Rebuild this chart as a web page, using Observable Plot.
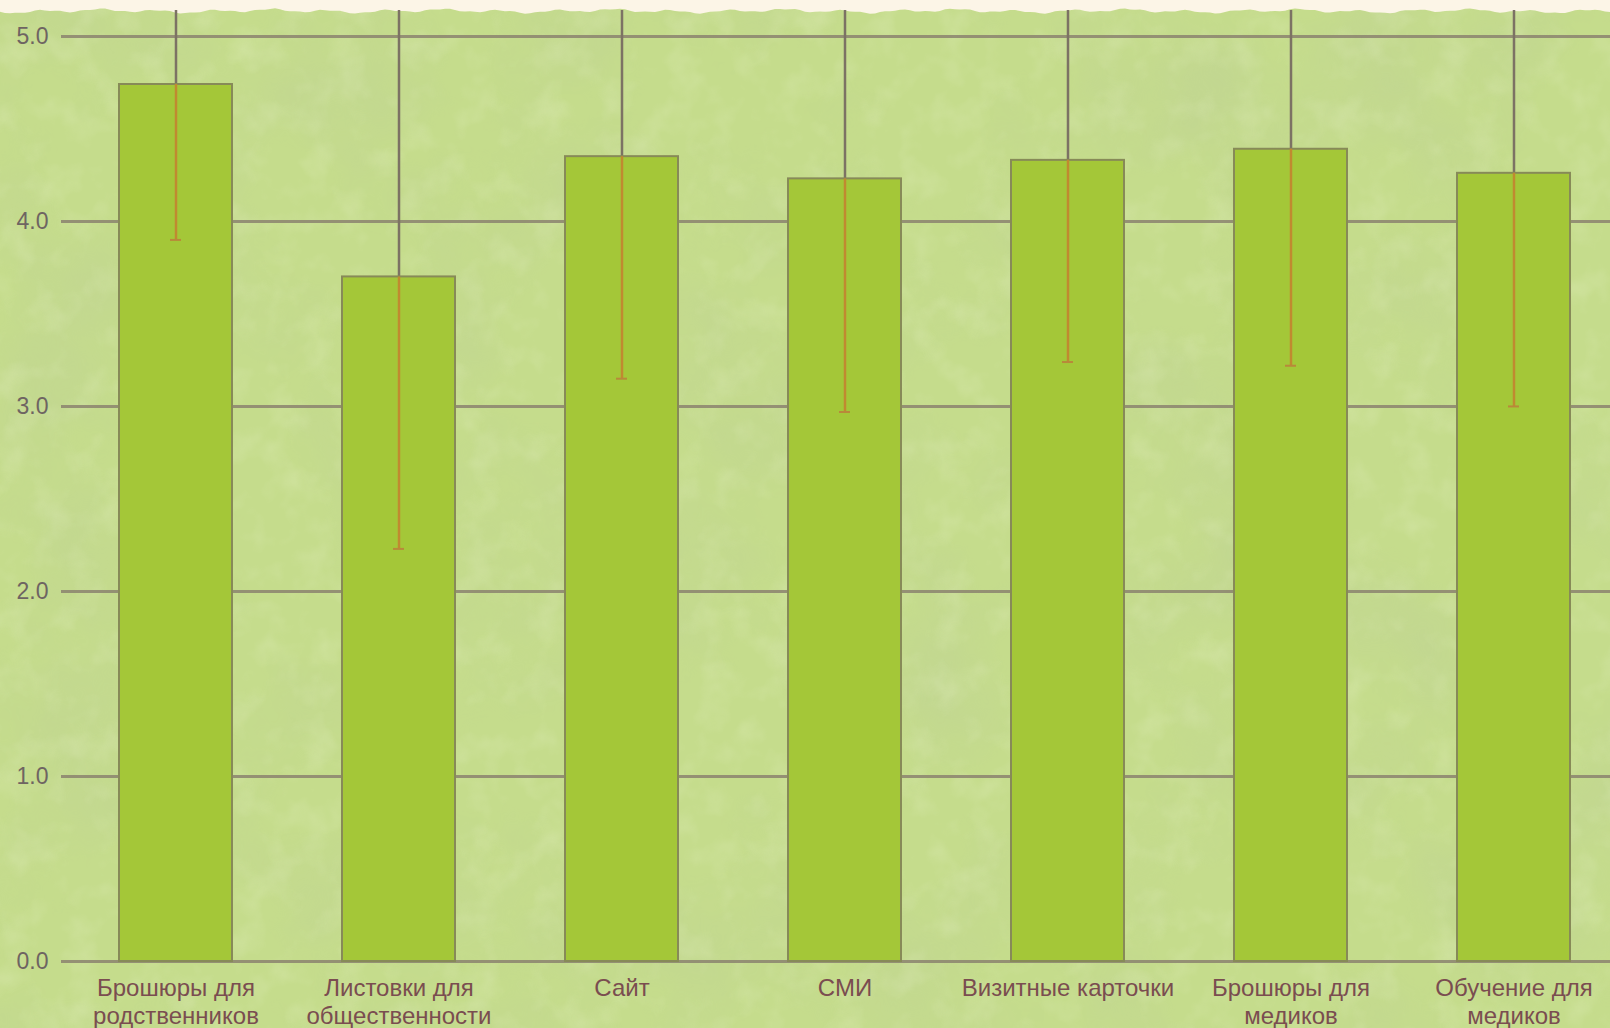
<!DOCTYPE html>
<html>
<head>
<meta charset="utf-8">
<script src="https://cdn.jsdelivr.net/npm/d3@7"></script>
<script src="https://cdn.jsdelivr.net/npm/@observablehq/plot@0.6"></script>
<style>
  html, body { margin: 0; padding: 0; background: #fcf5e7; }
  #wrap { position: relative; width: 1610px; height: 1028px; overflow: hidden; }
  #bg { position: absolute; left: 0; top: 0; }
  #chart { position: absolute; left: 0; top: 10px; }
  #chart svg { font-family: "Liberation Sans", Arial, sans-serif; }
</style>
</head>
<body>
<div id="wrap">
  <svg id="bg" width="1610" height="1028">
    <defs>
      <filter id="tex" x="0" y="0" width="100%" height="100%">
        <feTurbulence type="fractalNoise" baseFrequency="0.006" numOctaves="5" seed="7" result="n"/>
        <feColorMatrix in="n" type="matrix"
          values="0 0 0 0 0.50  0 0 0 0 0.60  0 0 0 0 0.33  1.8 0 0 0 -0.80"/>
      </filter>
      <filter id="tex2" x="0" y="0" width="100%" height="100%">
        <feTurbulence type="fractalNoise" baseFrequency="0.03" numOctaves="3" seed="2" result="n"/>
        <feColorMatrix in="n" type="matrix"
          values="0 0 0 0 0.85  0 0 0 0 0.92  0 0 0 0 0.65  1.6 0 0 0 -0.75"/>
      </filter>
    </defs>
    <rect x="0" y="8" width="1610" height="1020" fill="#c5dc8c"/>
    <rect x="0" y="8" width="1610" height="1020" filter="url(#tex)" opacity="0.4"/>
    <rect x="0" y="8" width="1610" height="1020" filter="url(#tex2)" opacity="0.3"/>
    <path id="torn" fill="#fcf5e7"/>
  </svg>
  <div id="chart"></div>
</div>
<script>
// ---- data ----
const categories = [
  "Брошюры для\nродственников",
  "Листовки для\nобщественности",
  "Сайт",
  "СМИ",
  "Визитные карточки",
  "Брошюры для\nмедиков",
  "Обучение для\nмедиков"
];
const means = [4.74, 3.70, 4.35, 4.23, 4.33, 4.39, 4.26];
const lows  = [3.90, 2.23, 3.15, 2.97, 3.24, 3.22, 3.00];
const yTicks = [0, 1, 2, 3, 4, 5];

// decorative torn paper edge at the top
(function () {
  let d = "M0,0 L1610,0 ";
  for (let x = 1610; x >= 0; x -= 5) {
    const y = 11 + 1.3 * Math.sin(x * 0.11) + 0.9 * Math.sin(x * 0.037 + 1) + 0.6 * Math.sin(x * 0.29);
    d += "L" + x + "," + y.toFixed(2) + " ";
  }
  d += "Z";
  document.getElementById("torn").setAttribute("d", d);
})();

const data = categories.map((c, i) => ({
  cat: c,
  mean: means[i],
  low: lows[i],
  high: means[i] + (means[i] - lows[i])
}));

const chart = Plot.plot({
  width: 1610,
  height: 1018,
  marginLeft: 61,
  marginRight: 0,
  marginTop: 0,
  marginBottom: 67,
  style: { background: "transparent", overflow: "hidden" },
  x: { domain: categories, range: [61, 1627], paddingInner: 0.495, paddingOuter: 0.2475 },
  y: { domain: [0, 5.14] },
  marks: [
    Plot.ruleY(yTicks, { y: d => d, stroke: "#8b836f", strokeWidth: 3, strokeOpacity: 0.85 }),
    Plot.ruleX(data, { x: "cat", y1: "low", y2: "high", stroke: "#7c7264", strokeWidth: 2.5, clip: true }),
    Plot.barY(data, { x: "cat", y: "mean", fill: "#a4c738", stroke: "#878a58", strokeWidth: 2 }),
    Plot.ruleX(data, { x: "cat", y1: "low", y2: "mean", stroke: "#c08a30", strokeWidth: 2.5 }),
    Plot.tickY(data, { x: "cat", y: "low", stroke: "#b8893a", strokeWidth: 2, insetLeft: 51, insetRight: 51 }),
    Plot.axisY(yTicks, {
      tickSize: 0, tickPadding: 13, fontSize: 23,
      tickFormat: d => d.toFixed(1), color: "#6e6462"
    }),
    Plot.axisX({
      tickSize: 0, tickPadding: 15, fontSize: 24, lineHeight: 1.15,
      color: "#7a4d50", label: null
    })
  ]
});
document.getElementById("chart").appendChild(chart);
</script>
</body>
</html>
